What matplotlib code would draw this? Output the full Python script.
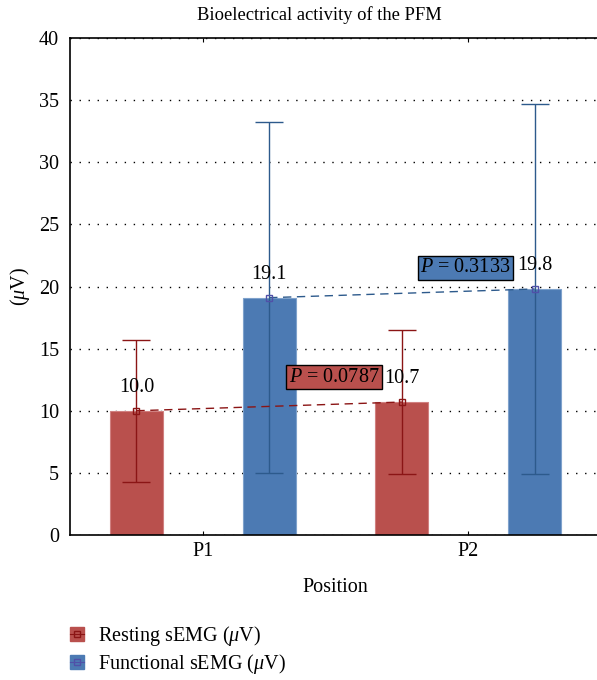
import numpy as np
import matplotlib
matplotlib.use('Agg')
from matplotlib import pyplot as plt
from matplotlib.lines import Line2D

plt.rcParams['font.family'] = ['Liberation Serif', 'DejaVu Serif']
plt.rcParams['mathtext.fontset'] = 'custom'
plt.rcParams['mathtext.it'] = 'Liberation Serif:italic'
plt.rcParams['mathtext.rm'] = 'Liberation Serif'

positions = ['P1', 'P2']
resting = [10.0, 10.7]
resting_sd = [5.7, 5.8]
functional = [19.1, 19.8]
functional_sd = [14.1, 14.9]
p_resting = '0.0787'
p_functional = '0.3133'

red = '#B9504D'
red_dark = '#8B1515'
blue = '#4C7AB3'
blue_dark = '#2D5A8C'

fs = 14.5

fig = plt.figure(figsize=(5.97, 6.8), dpi=100)
ax = fig.add_axes([70/597, 1 - 535/680, 531/597, 497/680])

x = np.arange(len(positions))
w = 0.2
xr = x - 0.25
xf = x + 0.25

ax.bar(xr, resting, w, color=red, edgecolor='#D08080', linewidth=0.8, zorder=2)
ax.bar(xf, functional, w, color=blue, edgecolor='#7FA2CC', linewidth=0.8, zorder=2)
ax.errorbar(xr, resting, yerr=resting_sd, fmt='none', ecolor=red_dark,
            elinewidth=1.0, capsize=10, capthick=1.0, zorder=3)
ax.errorbar(xf, functional, yerr=functional_sd, fmt='none', ecolor=blue_dark,
            elinewidth=1.0, capsize=10, capthick=1.0, zorder=3)
ax.plot(xr, resting, '--', color=red_dark, lw=1.0, dashes=(6, 4), zorder=4)
ax.plot(xf, functional, '--', color=blue_dark, lw=1.0, dashes=(6, 4), zorder=4)
ax.plot(xr, resting, 's', mfc='none', mec=red_dark, ms=5, mew=1.0, zorder=5)
ax.plot(xf, functional, 's', mfc='none', mec='#5050A8', ms=5, mew=1.0, zorder=5)

for xi, v in zip(xr, resting):
    ax.text(xi, v + 1.1, '%.1f' % v, ha='center', va='bottom', fontsize=fs, zorder=6)
for xi, v in zip(xf, functional):
    ax.text(xi, v + 1.1, '%.1f' % v, ha='center', va='bottom', fontsize=fs, zorder=6)

ax.text(0.495, 12.7, '$P$ = ' + p_resting, ha='center', va='center', fontsize=fs,
        bbox=dict(boxstyle='square,pad=0.12', fc=red, ec='black', lw=1.0), zorder=7)
ax.text(0.99, 21.5, '$P$ = ' + p_functional, ha='center', va='center', fontsize=fs,
        bbox=dict(boxstyle='square,pad=0.12', fc=blue, ec='black', lw=1.0), zorder=7)

ax.set_xlim(-0.5, 1.5)
ax.set_ylim(0, 40)
ax.set_xticks(x)
ax.set_xticklabels(positions)
ax.set_yticks(np.arange(0, 41, 5))
ax.tick_params(axis='y', length=0, labelsize=fs, pad=8)
ax.tick_params(axis='x', length=3, direction='in', labelsize=fs, pad=5, top=True)
ax.yaxis.grid(True, linestyle=(0, (1, 5.5)), color='black', lw=1.0)
ax.set_axisbelow(True)
ax.spines['right'].set_visible(False)
for s in ['left', 'bottom', 'top']:
    ax.spines[s].set_linewidth(1.2)

ax.set_title('Bioelectrical activity of the PFM', fontsize=13.3, pad=13, x=0.47)
ax.set_xlabel('Position', fontsize=fs, labelpad=12)
ax.set_ylabel(r'($\mu$V)', fontsize=fs, labelpad=5)

h1 = (Line2D([], [], marker='s', ls='none', color=red, ms=9.5),
      Line2D([], [], marker='s', ls='-', color=red_dark, mfc='none', ms=4.5, lw=0.8))
h2 = (Line2D([], [], marker='s', ls='none', color=blue, ms=9.5),
      Line2D([], [], marker='s', ls='-', color='#5050A8', mfc='none', ms=4.5, lw=0.8))
fig.legend([h1, h2], [r'Resting sEMG ($\mu$V)', r'Functional sEMG ($\mu$V)'],
           loc='lower left', bbox_to_anchor=(0.117, 0.006), frameon=False,
           borderpad=0, borderaxespad=0,
           fontsize=fs, handlelength=0.7, handletextpad=0.7, labelspacing=0.2)

plt.savefig('out.png', dpi=100)
